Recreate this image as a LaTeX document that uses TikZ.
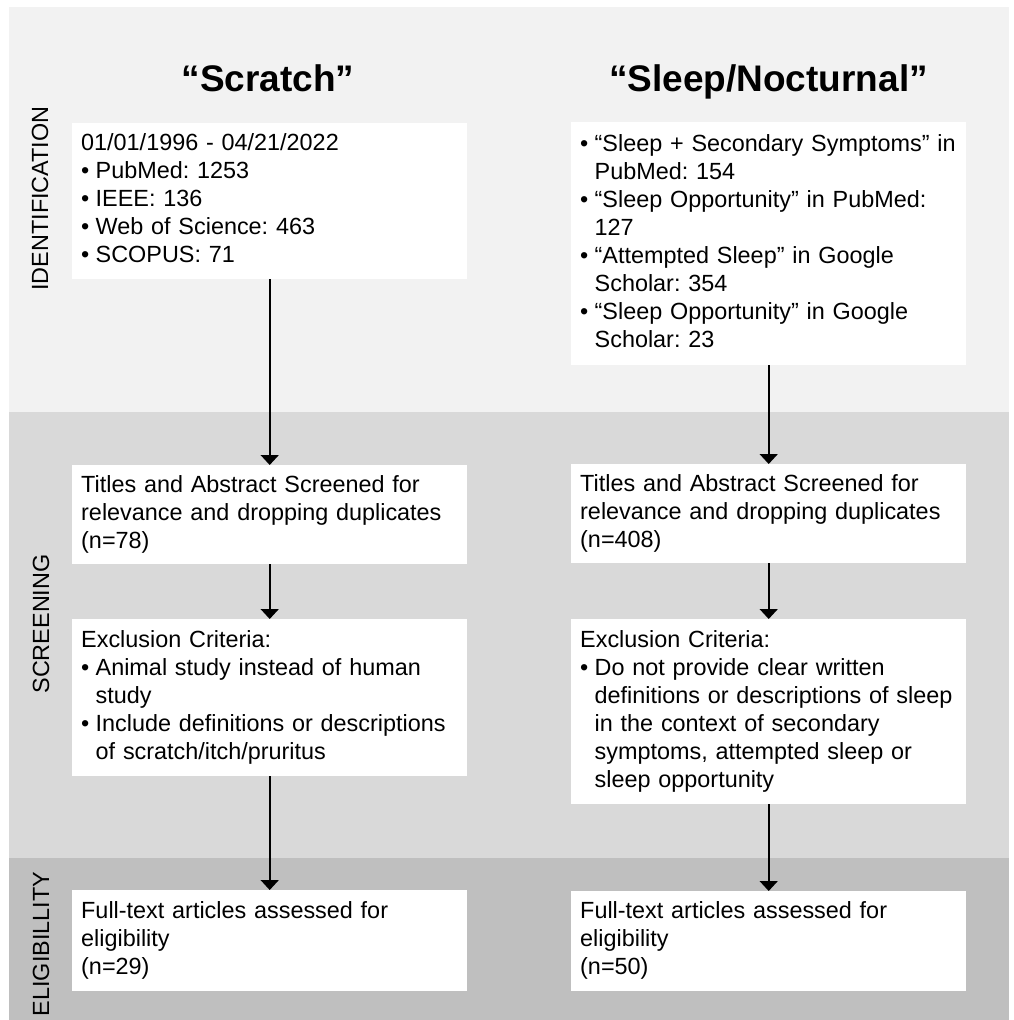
\documentclass[tikz,border=0pt]{standalone}
\usepackage{fontspec}
\setmainfont{Liberation Sans}
\usetikzlibrary{arrows.meta}
\frenchspacing
\definecolor{bandA}{HTML}{F2F2F2}
\definecolor{bandB}{HTML}{D9D9D9}
\definecolor{bandC}{HTML}{BFBFBF}
\newcommand{\bodyfnt}{\fontsize{23.4}{28}\selectfont\frenchspacing}
\newcommand{\bul}{\makebox[14.5pt][l]{•}}
\newcommand{\ind}{\hspace*{14.5pt}}
\tikzset{
  flowbox/.style={fill=white, draw=none, anchor=north west, inner xsep=9pt, inner ysep=0pt,
    text width=377pt, align=left, font=\bodyfnt},
  bandlabel/.style={rotate=90, font=\bodyfnt, inner sep=0pt},
  coltitle/.style={anchor=base, font=\fontsize{37}{44}\selectfont\bfseries, inner sep=0pt},
  flowarrow/.style={line width=1.8pt, -{Triangle[width=18pt,length=10pt]}}
}
\begin{document}
\begin{tikzpicture}[x=1pt,y=-1pt]
\useasboundingbox (0,0) rectangle (1014,1020);
\fill[white] (0,0) rectangle (1014,1020);
% bands
\fill[bandA] (9,7) rectangle (1009,412);
\fill[bandB] (9,412) rectangle (1009,858);
\fill[bandC] (9,858) rectangle (1009,1020);
% band labels
\node[bandlabel] (lid) at (40,198.5) {IDENTIFICATION};
\node[bandlabel] (lsc) at (41,624) {SCREENING};
\node[bandlabel] (lel) at (41,944) {ELIGIBILLITY};
% column titles
\node[coltitle] (tl) at (268,91) {“Scratch”};
\node[coltitle] (tr) at (768.5,91) {“Sleep/Nocturnal”};
% left column
\node[flowbox, minimum height=156pt] (L1) at (72,123) {\begin{tabular}{@{}l@{}}
01/01/1996 - 04/21/2022\\
\bul PubMed: 1253\\
\bul IEEE: 136\\
\bul Web of Science: 463\\
\bul SCOPUS: 71
\end{tabular}};
\node[flowbox, minimum height=99pt] (L2) at (72,465) {\begin{tabular}{@{}l@{}}
Titles and Abstract Screened for\\
relevance and dropping duplicates\\
(n=78)
\end{tabular}};
\node[flowbox, minimum height=157pt] (L3) at (72,619) {\begin{tabular}{@{}l@{}}
Exclusion Criteria:\\
\bul Animal study instead of human\\
\ind study\\
\bul Include definitions or descriptions\\
\ind of scratch/itch/pruritus
\end{tabular}};
\node[flowbox, minimum height=101pt] (L4) at (72,890) {\begin{tabular}{@{}l@{}}
Full-text articles assessed for\\
eligibility\\
(n=29)
\end{tabular}};
% right column
\node[flowbox, minimum height=243pt] (R1) at (571,122) {\begin{tabular}{@{}l@{}}
\bul “Sleep + Secondary Symptoms” in\\
\ind PubMed: 154\\
\bul “Sleep Opportunity” in PubMed:\\
\ind 127\\
\bul “Attempted Sleep” in Google\\
\ind Scholar: 354\\
\bul “Sleep Opportunity” in Google\\
\ind Scholar: 23
\end{tabular}};
\node[flowbox, minimum height=99pt] (R2) at (571,464) {\begin{tabular}{@{}l@{}}
Titles and Abstract Screened for\\
relevance and dropping duplicates\\
(n=408)
\end{tabular}};
\node[flowbox, minimum height=185pt] (R3) at (571,619) {\begin{tabular}{@{}l@{}}
Exclusion Criteria:\\
\bul Do not provide clear written\\
\ind definitions or descriptions of sleep\\
\ind in the context of secondary\\
\ind symptoms, attempted sleep or\\
\ind sleep opportunity
\end{tabular}};
\node[flowbox, minimum height=100pt] (R4) at (571,891) {\begin{tabular}{@{}l@{}}
Full-text articles assessed for\\
eligibility\\
(n=50)
\end{tabular}};
% arrows
\draw[flowarrow] (L1.south) -- (L2.north);
\draw[flowarrow] (L2.south) -- (L3.north);
\draw[flowarrow] (L3.south) -- (L4.north);
\draw[flowarrow] (R1.south) -- (R2.north);
\draw[flowarrow] (R2.south) -- (R3.north);
\draw[flowarrow] (R3.south) -- (R4.north);
\end{tikzpicture}
\end{document}
